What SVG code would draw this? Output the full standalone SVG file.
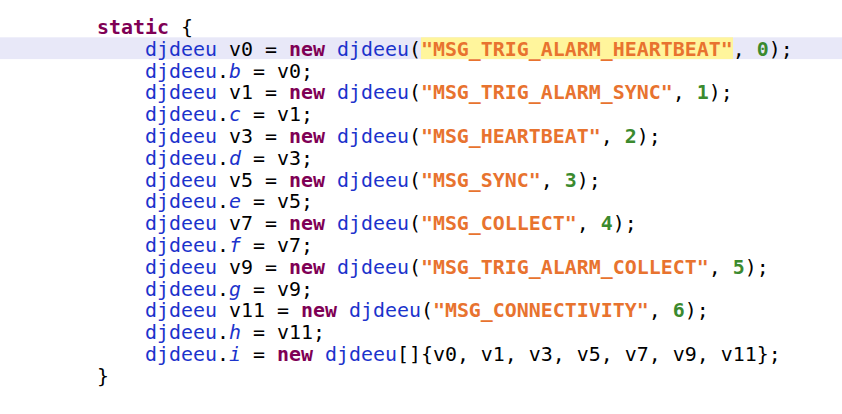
<svg xmlns="http://www.w3.org/2000/svg" width="842" height="414" viewBox="0 0 842 414">
<style>
text{font-family:"DejaVu Sans Mono","Liberation Mono",monospace;font-size:19.93px;fill:#000;white-space:pre}
.k{fill:#7f0055;font-weight:bold}
.t{fill:#1c33cc}
.f{fill:#1c33cc;font-style:italic}
.s{fill:#e8732f;font-weight:bold}
.n{fill:#3b8a2e;font-weight:bold}
</style>
<rect width="842" height="414" fill="#ffffff"/>
<g id="highlight">
<rect x="0" y="37.3" width="842" height="21.8" fill="#e8e8f8"/>
<rect x="421" y="37.3" width="312" height="21.8" fill="#fff59c"/>
</g>
<g id="code" xml:space="preserve">
<text x="97" y="34"><tspan class="k">static</tspan> {</text>
<text x="145" y="55.8"><tspan class="t">djdeeu</tspan> v0 = <tspan class="k">new</tspan> <tspan class="t">djdeeu</tspan>(<tspan class="s">"MSG_TRIG_ALARM_HEARTBEAT"</tspan>, <tspan class="n">0</tspan>);</text>
<text x="145" y="77.6"><tspan class="t">djdeeu</tspan>.<tspan class="f">b</tspan> = v0;</text>
<text x="145" y="99.4"><tspan class="t">djdeeu</tspan> v1 = <tspan class="k">new</tspan> <tspan class="t">djdeeu</tspan>(<tspan class="s">"MSG_TRIG_ALARM_SYNC"</tspan>, <tspan class="n">1</tspan>);</text>
<text x="145" y="121.2"><tspan class="t">djdeeu</tspan>.<tspan class="f">c</tspan> = v1;</text>
<text x="145" y="143"><tspan class="t">djdeeu</tspan> v3 = <tspan class="k">new</tspan> <tspan class="t">djdeeu</tspan>(<tspan class="s">"MSG_HEARTBEAT"</tspan>, <tspan class="n">2</tspan>);</text>
<text x="145" y="164.8"><tspan class="t">djdeeu</tspan>.<tspan class="f">d</tspan> = v3;</text>
<text x="145" y="186.6"><tspan class="t">djdeeu</tspan> v5 = <tspan class="k">new</tspan> <tspan class="t">djdeeu</tspan>(<tspan class="s">"MSG_SYNC"</tspan>, <tspan class="n">3</tspan>);</text>
<text x="145" y="208.4"><tspan class="t">djdeeu</tspan>.<tspan class="f">e</tspan> = v5;</text>
<text x="145" y="230.2"><tspan class="t">djdeeu</tspan> v7 = <tspan class="k">new</tspan> <tspan class="t">djdeeu</tspan>(<tspan class="s">"MSG_COLLECT"</tspan>, <tspan class="n">4</tspan>);</text>
<text x="145" y="252"><tspan class="t">djdeeu</tspan>.<tspan class="f">f</tspan> = v7;</text>
<text x="145" y="273.8"><tspan class="t">djdeeu</tspan> v9 = <tspan class="k">new</tspan> <tspan class="t">djdeeu</tspan>(<tspan class="s">"MSG_TRIG_ALARM_COLLECT"</tspan>, <tspan class="n">5</tspan>);</text>
<text x="145" y="295.6"><tspan class="t">djdeeu</tspan>.<tspan class="f">g</tspan> = v9;</text>
<text x="145" y="317.4"><tspan class="t">djdeeu</tspan> v11 = <tspan class="k">new</tspan> <tspan class="t">djdeeu</tspan>(<tspan class="s">"MSG_CONNECTIVITY"</tspan>, <tspan class="n">6</tspan>);</text>
<text x="145" y="339.2"><tspan class="t">djdeeu</tspan>.<tspan class="f">h</tspan> = v11;</text>
<text x="145" y="361"><tspan class="t">djdeeu</tspan>.<tspan class="f">i</tspan> = <tspan class="k">new</tspan> <tspan class="t">djdeeu</tspan>[]{v0, v1, v3, v5, v7, v9, v11};</text>
<text x="97" y="382.8">}</text>
</g>
</svg>
